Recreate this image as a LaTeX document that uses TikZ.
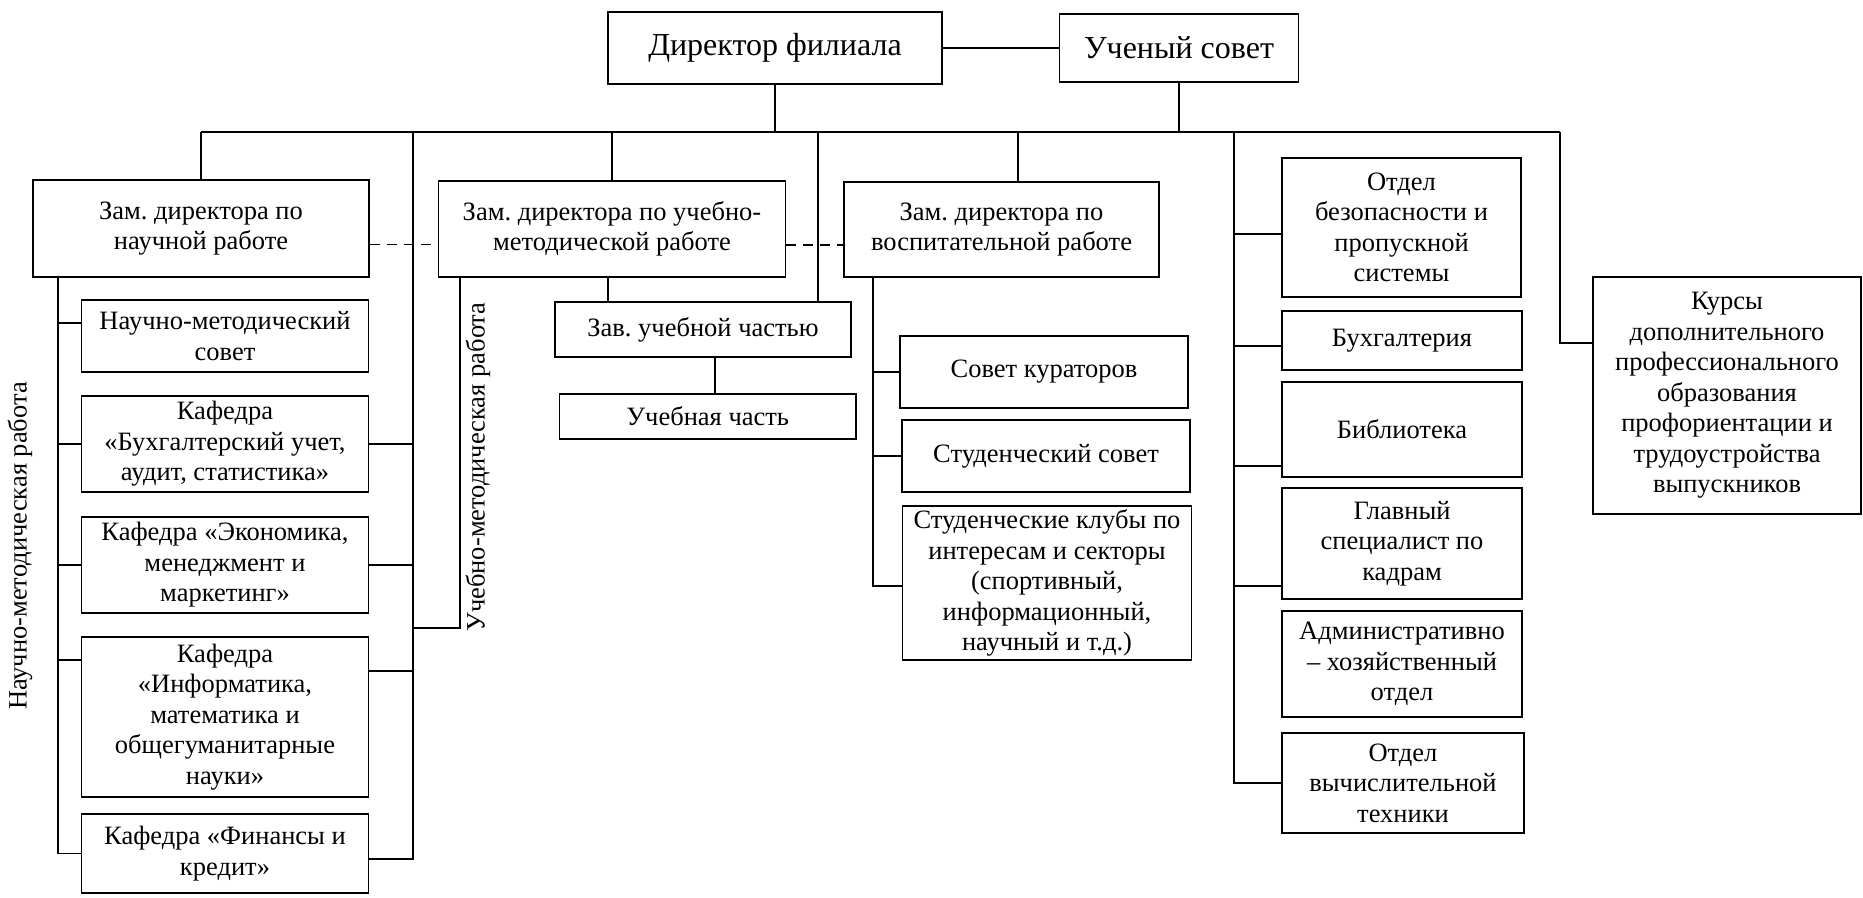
\documentclass[tikz,border=0pt]{standalone}
\usepackage{fontspec}
\setmainfont{Liberation Serif}
\begin{document}
\frenchspacing
\begin{tikzpicture}[x=1pt,y=-1pt,
  box/.style={draw, line width=1.7pt, align=center, inner sep=0pt, font=\rmfamily\fontsize{26.5}{30.5}\selectfont},
  big/.style={font=\rmfamily\fontsize{32}{36}\selectfont},
  conn/.style={line width=1.7pt},
  dashedconn/.style={line width=1.7pt, dash pattern=on 10pt off 7pt},
  lbl/.style={inner sep=0pt, font=\rmfamily\fontsize{26.5}{30.5}\selectfont}
]
\useasboundingbox (0,0) rectangle (1863,897);

% top
\node[box,big,minimum width=334pt,minimum height=72pt] (dir) at (775,48) {Директор филиала};
\node[box,big,minimum width=239pt,minimum height=68pt] (uch) at (1179,48) {Ученый совет};
\draw[conn] (dir.east) -- (uch.west);

\coordinate (busL) at (201,132);
\coordinate (busR) at (1560,132);
\draw[conn] (busL) -- (busR);
\draw[conn] (dir.south) -- (dir.south |- busL);
\draw[conn] (uch.south) -- (uch.south |- busL);

% deputies
\node[box,minimum width=336pt,minimum height=97pt] (zn) at (201,228.5) {Зам. директора по\\научной работе};
\node[box,minimum width=347pt,minimum height=96pt] (zu) at (612,229) {Зам. директора по учебно-\\методической работе};
\node[box,minimum width=315pt,minimum height=95pt] (zv) at (1001.5,229.5) {Зам. директора по\\воспитательной работе};
\draw[conn] (busL) -- (zn.north);
\draw[conn] (zu.north) -- (zu.north |- busL);
\coordinate (zvtop) at ([xshift=16.5pt]zv.north);
\draw[conn] (zvtop) -- (zvtop |- busL);
\draw[dashedconn] ([yshift=-16pt]zn.east) -- ([yshift=-16pt]zn.east -| zu.west);
\draw[dashedconn] ([yshift=-16pt]zu.east) -- ([yshift=-16pt]zu.east -| zv.west);

% left column
\node[box,minimum width=287pt,minimum height=72pt] (nms) at (225,336) {Научно-методический\\совет};
\node[box,minimum width=287pt,minimum height=96pt] (kb) at (225,444) {Кафедра\\«Бухгалтерский учет,\\аудит, статистика»};
\node[box,minimum width=287pt,minimum height=96pt] (ke) at (225,565) {Кафедра «Экономика,\\менеджмент и\\маркетинг»};
\node[box,minimum width=287pt,minimum height=160pt] (ki) at (225,717) {Кафедра\\«Информатика,\\математика и\\общегуманитарные\\науки»};
\node[box,minimum width=287pt,minimum height=79pt] (kf) at (225,853.5) {Кафедра «Финансы и\\кредит»};

\coordinate (nL) at (58,0);
\draw[conn] (zn.south -| nL) -- (kf.west -| nL) -- (kf.west);
\draw[conn] ([yshift=13pt]nms.west) -- ([yshift=13pt]nms.west -| nL);
\draw[conn] (kb.west) -- (kb.west -| nL);
\draw[conn] (ke.west) -- (ke.west -| nL);
\draw[conn] ([yshift=57pt]ki.west) -- ([yshift=57pt]ki.west -| nL);

\coordinate (nR) at (413,0);
\draw[conn] (busL -| nR) -- ([yshift=-5.5pt]kf.east -| nR) -- ([yshift=-5.5pt]kf.east);
\draw[conn] (kb.east) -- (kb.east -| nR);
\draw[conn] (ke.east) -- (ke.east -| nR);
\draw[conn] ([yshift=46pt]ki.east) -- ([yshift=46pt]ki.east -| nR);

\coordinate (bkb) at (460,628);
\draw[conn] (zu.south -| bkb) -- (bkb) -- (bkb -| nR);

\node[lbl,rotate=90] (lblN) at (20,546) {Научно-методическая работа};
\node[lbl,rotate=90] (lblU) at (478,467) {Учебно-методическая работа};

% middle
\node[box,minimum width=296pt,minimum height=55pt] (zav) at (703,329.5) {Зав. учебной частью};
\node[box,minimum width=296.5pt,minimum height=45pt] (uchch) at (707.75,416.5) {Учебная часть};
\coordinate (zuL) at (608,0);
\draw[conn] (zu.south -| zuL) -- (zav.north -| zuL);
\coordinate (zavR) at (818,0);
\draw[conn] (busL -| zavR) -- (zav.north -| zavR);
\coordinate (zc) at (715,0);
\draw[conn] (zav.south -| zc) -- (uchch.north -| zc);

% educational branch
\node[box,minimum width=288pt,minimum height=72pt] (sk) at (1044,372) {Совет кураторов};
\node[box,minimum width=288pt,minimum height=72pt] (ss) at (1046,456) {Студенческий совет};
\node[box,minimum width=289pt,minimum height=154pt] (scl) at (1047,583) {Студенческие клубы по\\интересам и секторы\\(спортивный,\\информационный,\\научный и т.д.)};
\coordinate (vL) at (873,0);
\draw[conn] (zv.south -| vL) -- ([yshift=-3pt]scl.west -| vL) -- ([yshift=-3pt]scl.west);
\draw[conn] (sk.west) -- (sk.west -| vL);
\draw[conn] (ss.west) -- (ss.west -| vL);

% right column
\node[box,minimum width=239pt,minimum height=139pt] (ob) at (1401.5,227.5) {Отдел\\безопасности и\\пропускной\\системы};
\node[box,minimum width=240pt,minimum height=59pt] (bu) at (1402,340.5) {Бухгалтерия};
\node[box,minimum width=240pt,minimum height=95pt] (bi) at (1402,429.5) {Библиотека};
\node[box,minimum width=240pt,minimum height=111pt] (gs) at (1402,543.5) {Главный\\специалист по\\кадрам};
\node[box,minimum width=240pt,minimum height=106pt] (ah) at (1402,664) {Административно\\– хозяйственный\\отдел};
\node[box,minimum width=242pt,minimum height=100pt] (ov) at (1403,783) {Отдел\\вычислительной\\техники};
\coordinate (rL) at (1234,0);
\draw[conn] (busL -| rL) -- (ov.west -| rL) -- (ov.west);
\draw[conn] ([yshift=-6.5pt]ob.west) -- ([yshift=-6.5pt]ob.west -| rL);
\draw[conn] ([yshift=-5.5pt]bu.west) -- ([yshift=-5.5pt]bu.west -| rL);
\draw[conn] ([yshift=-36.5pt]bi.west) -- ([yshift=-36.5pt]bi.west -| rL);
\draw[conn] ([yshift=-42.5pt]gs.west) -- ([yshift=-42.5pt]gs.west -| rL);

\node[box,minimum width=268pt,minimum height=237pt] (kurs) at (1727,395.5) {Курсы\\дополнительного\\профессионального\\образования\\профориентации и\\трудоустройства\\выпускников};
\coordinate (kB) at (1560,343);
\draw[conn] (busR) -- (kB) -- (kB -| kurs.west);
\end{tikzpicture}
\end{document}
